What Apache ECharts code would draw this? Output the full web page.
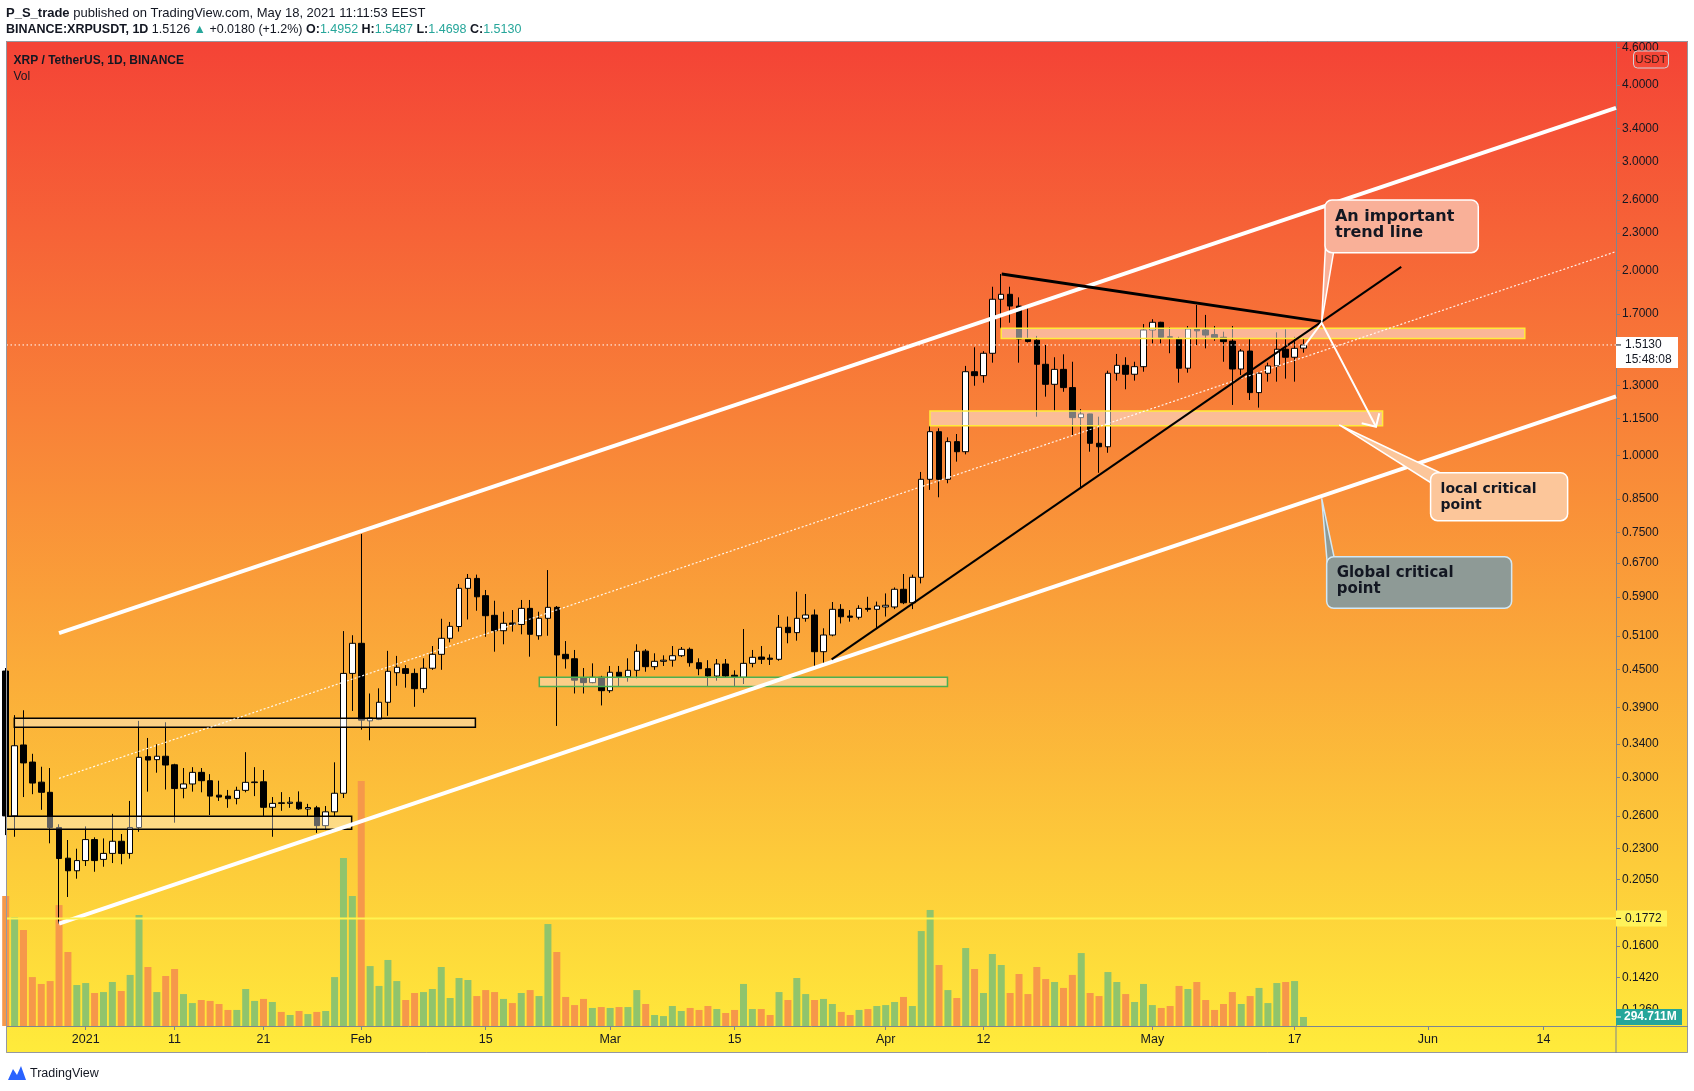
<!DOCTYPE html>
<html>
<head>
<meta charset="utf-8">
<title>XRPUSDT 1D</title>
<script src="https://cdn.jsdelivr.net/npm/echarts@6/dist/echarts.min.js"></script>
<style>
html,body{margin:0;padding:0;background:#ffffff;}
#chart{width:1694px;height:1091px;}
</style>
</head>
<body>
<div id="chart"></div>
<script>
// ---------------- data (daily candles, first candle = firstDate) ----------------
const firstDate = '2020-12-23';
const open = [
 0.447,0.260,0.339,0.318,0.295,0.284,0.249,0.222,0.2118,
 0.220,0.238,0.221,0.226,0.2365,0.226,0.249,0.3245,0.3209,0.325,0.3148,0.2883,0.293,0.306,0.2966,0.281,0.280,0.2776,0.2861,0.2945,0.2954,0.2685,0.2730,0.2725,0.2737,0.2668,0.268,0.2507,0.264,0.283,0.443,
 0.4958,0.371,0.373,0.3977,0.4442,0.451,0.443,0.4184,0.4517,0.4758,0.5052,0.528,0.609,0.632,0.5925,0.5505,0.5197,0.535,0.532,0.565,0.510,0.5444,0.5672,0.4758,0.468,0.436,0.428,0.4366,
 0.4153,0.4449,0.4376,0.4482,0.4815,0.4543,0.4635,0.4655,0.4733,0.4848,0.4611,0.4509,0.4387,0.4589,0.440,0.4366,0.460,0.471,0.469,0.467,0.5264,0.516,0.5444,0.5512,0.4805,0.5114,0.563,0.549,0.5465,0.565,0.563,
 0.568,0.568,0.6068,0.577,0.6346,0.9155,1.094,0.9155,1.054,1.015,1.369,1.349,1.4666,1.795,1.8286,1.750,1.547,1.54,1.4075,1.306,1.381,1.290,1.153,1.169,1.0475,1.034,1.361,1.402,1.356,1.395,
 1.60,1.647,1.560,1.547,1.387,1.606,1.60,1.573,1.557,1.535,1.383,1.479,1.266,1.361,1.399,1.489,1.445,1.4952
];
const high = [
 0.452,0.379,0.386,0.328,0.3125,0.311,0.252,0.2376,0.230,
 0.250,0.240,0.239,0.262,0.243,0.275,0.371,0.348,0.340,0.369,0.316,0.311,0.312,0.311,0.304,0.2966,0.2865,0.290,0.330,0.312,0.3087,0.279,0.2842,0.279,0.285,0.272,0.270,0.2698,0.3177,0.519,0.511,
 0.746,0.411,0.419,0.482,0.473,0.457,0.451,0.4688,0.4908,0.5435,0.537,0.619,0.6425,0.641,0.6052,0.5814,0.558,0.5615,0.583,0.583,0.558,0.652,0.570,0.50,0.4836,0.452,0.460,0.439,
 0.4555,0.4555,0.4688,0.494,0.485,0.4776,0.474,0.4908,0.489,0.488,0.4688,0.4655,0.4675,0.4675,0.4482,0.523,0.4836,0.4908,0.4757,0.5512,0.548,0.6014,0.5962,0.5627,0.5244,0.5786,0.574,0.5614,0.5716,0.590,0.5795,
 0.5975,0.611,0.6425,0.641,0.941,1.1187,1.108,1.071,1.0845,1.399,1.50,1.478,1.881,1.973,1.881,1.808,1.735,1.565,1.513,1.445,1.461,1.421,1.19,1.17,1.157,1.374,1.463,1.445,1.421,1.636,
 1.666,1.65,1.616,1.56,1.624,1.757,1.693,1.624,1.59,1.624,1.49,1.547,1.365,1.416,1.586,1.604,1.56,1.5487
];
const low = [
 0.242,0.2405,0.279,0.282,0.266,0.2347,0.174,0.192,0.2056,
 0.2156,0.211,0.215,0.218,0.217,0.2216,0.245,0.2847,0.3056,0.287,0.2535,0.2777,0.2847,0.284,0.2609,0.275,0.268,0.2715,0.284,0.280,0.260,0.2405,0.265,0.268,0.266,0.259,0.244,0.2466,0.260,0.278,0.385,
 0.359,0.345,0.372,0.378,0.423,0.42,0.391,0.412,0.449,0.449,0.4975,0.518,0.542,0.560,0.508,0.4805,0.494,0.518,0.5128,0.4716,0.5025,0.510,0.364,0.451,0.411,0.411,0.427,0.393,
 0.412,0.4226,0.4295,0.435,0.4458,0.449,0.4555,0.4543,0.471,0.4543,0.440,0.4226,0.4311,0.437,0.4226,0.4258,0.4532,0.4589,0.4572,0.4645,0.4958,0.5007,0.5376,0.4555,0.4555,0.509,0.534,0.5376,0.542,0.558,0.5244,
 0.548,0.5635,0.574,0.5635,0.6203,0.88,0.856,0.902,0.978,1.005,1.299,1.314,1.416,1.61,1.644,1.416,1.527,1.157,1.247,1.183,1.27,1.0805,0.885,1.015,0.938,1.011,1.324,1.282,1.324,1.369,
 1.522,1.522,1.467,1.314,1.364,1.513,1.494,1.537,1.421,1.209,1.352,1.2316,1.197,1.319,1.319,1.334,1.319,1.4698
];
const close = [
 0.260,0.338,0.317,0.294,0.284,0.249,0.2217,0.2118,0.220,
 0.238,0.220,0.226,0.2365,0.226,0.249,0.3237,0.3204,0.325,0.3145,0.288,0.293,0.306,0.2966,0.280,0.279,0.2773,0.2861,0.2948,0.2952,0.2685,0.2725,0.2725,0.2737,0.267,0.2683,0.2507,0.264,0.283,0.443,0.4958,
 0.372,0.375,0.3977,0.4465,0.4533,0.443,0.4184,0.4517,0.4758,0.5052,0.5283,0.609,0.632,0.590,0.5497,0.5197,0.5343,0.532,0.565,0.5128,0.5444,0.5672,0.4746,0.468,0.432,0.428,0.4366,0.4153,
 0.4449,0.4376,0.4482,0.4812,0.4543,0.4635,0.4655,0.4733,0.4848,0.4611,0.4509,0.4387,0.4589,0.4387,0.4376,0.460,0.4705,0.467,0.467,0.5264,0.5159,0.5444,0.5512,0.4805,0.5114,0.563,0.5476,0.5465,0.565,0.563,0.570,
 0.5716,0.6068,0.577,0.6346,0.9155,1.094,0.9155,1.054,1.015,1.369,1.349,1.4666,1.795,1.8286,1.750,1.547,1.533,1.4075,1.306,1.381,1.290,1.153,1.169,1.0475,1.034,1.361,1.402,1.356,1.395,1.60,
 1.647,1.557,1.557,1.387,1.606,1.595,1.570,1.555,1.532,1.383,1.479,1.266,1.361,1.399,1.489,1.445,1.494,1.5130
];
// volume in millions of XRP
const volumeM = [
 4250,3555,3140,1600,1375,1470,3955,2420,1340,
 1405,1080,1110,1440,1145,1670,3630,1930,1110,1635,1865,1045,750,850,820,720,525,525,1210,820,885,785,460,360,490,390,460,490,1600,5495,4250,
 8010,1960,1310,2160,1470,850,1080,1110,1210,1930,915,1570,1505,980,1175,1110,885,750,1080,1175,980,3335,2420,950,685,885,590,620,
 590,620,620,1175,720,360,325,655,490,590,525,655,555,425,525,1375,555,555,360,1110,850,1570,1045,850,885,720,460,360,525,555,655,
 685,785,950,655,3105,3795,1995,1175,915,2550,1865,1080,2355,1995,1080,1700,1045,1930,1535,1440,1245,1670,2385,1080,980,1765,1440,1045,785,1375,
 685,590,655,1310,1210,1440,850,525,720,1110,720,980,1245,750,1405,1440,1470,294.711
];

const priceTicks = [4.6,4.0,3.4,3.0,2.6,2.3,2.0,1.7,1.3,1.15,1.0,0.85,0.75,0.67,0.59,0.51,0.45,0.39,0.34,0.30,0.26,0.23,0.205,0.16,0.142,0.126];
const dateTicks = ['2021-01-01','2021-01-11','2021-01-21','2021-02-01','2021-02-15','2021-03-01','2021-03-15','2021-04-01','2021-04-12','2021-05-01','2021-05-17','2021-06-01','2021-06-14'];
const dateTickLabels = ['2021','11','21','Feb','15','Mar','15','Apr','12','May','17','Jun','14'];

const lastPrice = 1.5130;
const lastVolumeLabel = '294.711M';
const levelPrice = 0.1772;

// drawings in (day offset from 2021-01-01, price)
const bandRects = [
 [-8.03, 0.3746, 43.84, 0.3621],
 [-9.5, 0.2596, 29.92, 0.2473],
 [51.03, 0.4366, 96.95, 0.4218],
 [103.0, 1.610, 161.9, 1.550],
 [94.98, 1.182, 145.9, 1.1187]
];
const drawnLines = [
 [[-3, 0.515], [172.16, 3.672]],
 [[-3, 0.1738], [172.16, 1.248]],
 [[-3, 0.2992], [172.16, 2.145]],
 [[83.92, 0.467], [148.0, 2.026]],
 [[103.05, 1.973], [139.05, 1.651]],
 [[137.17, 1.511], [139.05, 1.644], [145.16, 1.1146]],
 [[143.55, 1.1288], [145.16, 1.1146], [145.53, 1.1718]]
];
const callouts = [
 {text:'An important\ntrend line', anchor:[139.05, 1.651], box:[139.42, 2.602, 156.67, 2.1366], tail:[[139.53, 2.274], [140.43, 2.158]]},
 {text:'local critical\npoint', anchor:[141.03, 1.1217], box:[151.3, 0.9384, 166.72, 0.7842], tail:[[151.91, 0.8929], [153.14, 0.9269]]},
 {text:'Global critical\npoint', anchor:[139.05, 0.8527], box:[139.61, 0.6855, 160.42, 0.5652], tail:[[139.7, 0.662], [140.66, 0.662]]}
];

// ---------------- axis ranges ----------------
const dayMin = -8.91, dayMax = 172.16;
const priceMin = 0.11852, priceMax = 4.680;
const volMax = 32150;

// ---------------- build ----------------
const DAY = 86400000;
const baseUTC = Date.UTC(2021, 0, 1);
function dayIndex(s) { const a = s.split('-').map(Number); return (Date.UTC(a[0], a[1] - 1, a[2]) - baseUTC) / DAY; }
const d0 = dayIndex(firstDate);
const days = open.map((_, i) => d0 + i);
const L = Math.log;
const tickDays = dateTicks.map(dayIndex);
const tickLn = priceTicks.map(L);

const GREEN = '#90C46C', ORANGE = '#F6984A';
const candleData = days.map((d, i) => [d, L(open[i]), L(close[i]), L(low[i]), L(high[i])]);
const volData = days.map((d, i) => ({value: [d, volumeM[i]], itemStyle: {color: close[i] >= open[i] ? GREEN : ORANGE}}));

const bandLook = [
 {fill:'rgba(255,255,255,0.38)', stroke:'#000000'},
 {fill:'rgba(255,255,255,0.38)', stroke:'#000000'},
 {fill:'rgba(255,255,255,0.40)', stroke:'#4CAF50'},
 {fill:'rgba(255,255,255,0.48)', stroke:'#FFEB3B'},
 {fill:'rgba(255,255,255,0.48)', stroke:'#FFEB3B'}
];
const lineLook = [
 {stroke:'#ffffff', width:4},
 {stroke:'#ffffff', width:4},
 {stroke:'rgba(255,255,255,0.9)', width:1.2, dash:[2,2]},
 {stroke:'#000000', width:2},
 {stroke:'#000000', width:3},
 {stroke:'#ffffff', width:2},
 {stroke:'#ffffff', width:2}
];
const calloutLook = [
 {fill:'#F9B098', stroke:'#ffffff', size:16},
 {fill:'#FCC69A', stroke:'#ffffff', size:14},
 {fill:'#8E9A96', stroke:'#D2E8F6', size:15}
];
const FONT = 'Liberation Sans, Arial, sans-serif';

function pt(api, p) { return api.coord([p[0], L(p[1])]); }

function renderBand(params, api) {
  const b = bandRects[params.dataIndex], lk = bandLook[params.dataIndex];
  const a = pt(api, [b[0], b[1]]), c = pt(api, [b[2], b[3]]);
  return {type:'rect', shape:{x:Math.min(a[0], c[0]), y:Math.min(a[1], c[1]), width:Math.abs(c[0] - a[0]), height:Math.abs(c[1] - a[1])},
    style:{fill:lk.fill, stroke:lk.stroke, lineWidth:1.5}};
}
function renderLine(params, api) {
  const ln = drawnLines[params.dataIndex], lk = lineLook[params.dataIndex];
  return {type:'polyline', shape:{points: ln.map(p => pt(api, p))},
    style:{stroke:lk.stroke, lineWidth:lk.width, lineDash:lk.dash || null, fill:null}};
}
function renderCallout(params, api) {
  const c = callouts[params.dataIndex], lk = calloutLook[params.dataIndex];
  const a = pt(api, c.anchor), t0 = pt(api, c.tail[0]), t1 = pt(api, c.tail[1]);
  const b0 = pt(api, [c.box[0], c.box[1]]), b1 = pt(api, [c.box[2], c.box[3]]);
  return {type:'group', children:[
    {type:'polygon', shape:{points:[a, t0, t1]}, style:{fill:lk.fill, stroke:lk.stroke, lineWidth:1.5}},
    {type:'rect', shape:{x:b0[0], y:b0[1], width:b1[0] - b0[0], height:b1[1] - b0[1], r:7}, style:{fill:lk.fill, stroke:lk.stroke, lineWidth:1.5}},
    {type:'text', x:b0[0] + 10, y:b0[1] + 8.5, style:{legacy:false, text:c.text, fill:'#131722', fontSize:lk.size, fontWeight:'bold', fontFamily:'DejaVu Sans', lineHeight:16, align:'left', verticalAlign:'top'}}
  ]};
}
function txt(x, y, text, size, color, weight) {
  return {type:'text', x:x, y:y, style:{legacy:false, text:text, fill:color, fontSize:size, fontWeight:weight || 'normal', fontFamily:FONT, align:'left', verticalAlign:'middle'}};
}
function renderPriceTags(params, api) {
  const p = api.coord([dayMax, L(lastPrice)]);
  const q = api.coord([dayMax, L(levelPrice)]);
  const x0 = p[0];
  return {type:'group', children:[
    {type:'line', shape:{x1:api.coord([dayMin, 0])[0], y1:p[1], x2:x0, y2:p[1]}, style:{stroke:'#ffffff', lineWidth:1, lineDash:[1.5,2.5]}},
    {type:'line', shape:{x1:api.coord([dayMin, 0])[0], y1:q[1], x2:x0, y2:q[1]}, style:{stroke:'#FFF350', lineWidth:2}},
    {type:'rect', shape:{x:x0, y:p[1] - 8, width:62, height:31}, style:{fill:'#ffffff'}},
    {type:'line', shape:{x1:x0, y1:p[1], x2:x0 + 5, y2:p[1]}, style:{stroke:'#131722', lineWidth:1}},
    txt(x0 + 9, p[1], lastPrice.toFixed(4), 12, '#131722'),
    txt(x0 + 9, p[1] + 15, '15:48:08', 12, '#131722'),
    {type:'rect', shape:{x:x0, y:q[1] - 8, width:51, height:16}, style:{fill:'#FFF35A'}},
    {type:'line', shape:{x1:x0, y1:q[1], x2:x0 + 5, y2:q[1]}, style:{stroke:'#131722', lineWidth:1}},
    txt(x0 + 9, q[1], levelPrice.toFixed(4), 12, '#131722')
  ]};
}
function renderVolTag(params, api) {
  const p = api.coord([dayMax, volumeM[volumeM.length - 1]]);
  const x0 = p[0];
  return {type:'group', children:[
    {type:'rect', shape:{x:x0, y:p[1] - 8, width:66, height:16}, style:{fill:'#26A69A'}},
    {type:'line', shape:{x1:x0, y1:p[1], x2:x0 + 5, y2:p[1]}, style:{stroke:'#ffffff', lineWidth:1}},
    txt(x0 + 8, p[1], lastVolumeLabel, 12, '#ffffff', 'bold')
  ]};
}

const bgGradient = new echarts.graphic.LinearGradient(0, 0, 0, 1, [
  {offset:0, color:'#F44336'}, {offset:1, color:'#FFEB3B'}
]);

const option = {
  animation: false,
  backgroundColor: '#ffffff',
  grid: [{left:6.5, right:78, top:43, bottom:65, containLabel:false, outerBoundsMode:'none'}],
  xAxis: [{
    type:'value', min:dayMin, max:dayMax, position:'bottom',
    splitLine:{show:false},
    axisLine:{show:true, onZero:false, lineStyle:{color:'#7d8590', width:1}},
    axisTick:{show:true, length:4, customValues:tickDays, lineStyle:{color:'#7d8590'}},
    axisLabel:{customValues:tickDays, margin:7, color:'#131722', fontSize:12.5, fontFamily:FONT,
      formatter:(v) => { const k = tickDays.indexOf(v); return k >= 0 ? dateTickLabels[k] : ''; }}
  }],
  yAxis: [{
    type:'value', position:'right', min:L(priceMin), max:L(priceMax),
    splitLine:{show:false},
    axisLine:{show:true, onZero:false, lineStyle:{color:'#7d8590', width:1}},
    axisTick:{show:true, length:4, customValues:tickLn, lineStyle:{color:'#7d8590'}},
    axisLabel:{customValues:tickLn, margin:6, color:'#131722', fontSize:12, fontFamily:FONT,
      formatter:(v) => Math.exp(v).toFixed(4)}
  }, {
    type:'value', min:0, max:volMax, show:false, splitLine:{show:false}, axisLine:{show:false, onZero:false}
  }],
  graphic: {elements: [
    {type:'rect', silent:true, z:-100, shape:{x:6, y:41, width:1682, height:1012}, style:{fill:bgGradient}},
    {type:'rect', silent:true, z:100, shape:{x:6.5, y:41.5, width:1681, height:1011}, style:{fill:null, stroke:'#9598A1', lineWidth:1}},
    {type:'line', silent:true, z:100, shape:{x1:1616, y1:1026, x2:1616, y2:1053}, style:{stroke:'#7d8590', lineWidth:1}},
    {type:'line', silent:true, z:100, shape:{x1:1616, y1:1026.5, x2:1688, y2:1026.5}, style:{stroke:'#7d8590', lineWidth:1}},
    {type:'text', x:6, y:13, style:{legacy:false, text:'{b|P_S_trade} published on TradingView.com, May 18, 2021 11:11:53 EEST',
      fill:'#131722', fontSize:13, fontFamily:FONT, verticalAlign:'middle', align:'left',
      rich:{b:{fontWeight:'bold', fontSize:13, fontFamily:FONT, fill:'#131722'}}}},
    {type:'text', x:6, y:29.5, style:{legacy:false,
      text:'{b|BINANCE:XRPUSDT, 1D} 1.5126 {g|\u25B2} +0.0180 (+1.2%) {b|O:}{g|1.4952} {b|H:}{g|1.5487} {b|L:}{g|1.4698} {b|C:}{g|1.5130}',
      fill:'#131722', fontSize:12.5, fontFamily:FONT, verticalAlign:'middle', align:'left',
      rich:{b:{fontWeight:'bold', fontSize:12.5, fontFamily:FONT, fill:'#131722'}, g:{fontSize:12.5, fontFamily:FONT, fill:'#26A69A'}}}},
    {type:'text', x:13.5, y:61, style:{legacy:false, text:'XRP / TetherUS, 1D, BINANCE', fill:'#131722', fontSize:12, fontWeight:'bold', fontFamily:FONT, verticalAlign:'middle', align:'left'}},
    {type:'text', x:13.5, y:77, style:{legacy:false, text:'Vol', fill:'#131722', fontSize:12, fontFamily:FONT, verticalAlign:'middle', align:'left'}},
    {type:'rect', z:100, shape:{x:1633.5, y:51, width:35, height:17, r:4}, style:{fill:null, stroke:'#D1D4DC', lineWidth:1}},
    {type:'text', z:100, x:1651, y:59.5, style:{legacy:false, text:'USDT', fill:'#3a1a14', fontSize:11.5, fontFamily:FONT, verticalAlign:'middle', align:'center'}},
    {type:'polygon', shape:{points:[[8,1080],[13,1069],[17,1075],[21,1066],[26,1080]]}, style:{fill:'#2962FF'}},
    {type:'text', x:30, y:1073.5, style:{legacy:false, text:'TradingView', fill:'#131722', fontSize:12.5, fontFamily:FONT, verticalAlign:'middle', align:'left'}}
  ]},
  series: [
    {type:'bar', name:'Vol', xAxisIndex:0, yAxisIndex:1, data:volData, barWidth:7, z:1, clip:true},
    {type:'candlestick', name:'XRPUSDT', xAxisIndex:0, yAxisIndex:0, data:candleData, barWidth:6, z:2, clip:true,
      itemStyle:{color:'#ffffff', color0:'#000000', borderColor:'#000000', borderColor0:'#000000', borderColorDoji:'#000000', borderWidth:1}},
    {type:'custom', name:'bands', xAxisIndex:0, yAxisIndex:0, z:3, clip:true, silent:true,
      data: bandRects.map(() => [0, 0]), renderItem: renderBand},
    {type:'custom', name:'lines', xAxisIndex:0, yAxisIndex:0, z:4, clip:true, silent:true,
      data: drawnLines.map(() => [0, 0]), renderItem: renderLine},
    {type:'custom', name:'callouts', xAxisIndex:0, yAxisIndex:0, z:5, clip:true, silent:true,
      data: callouts.map(() => [0, 0]), renderItem: renderCallout},
    {type:'custom', name:'priceTags', xAxisIndex:0, yAxisIndex:0, z:6, clip:false, silent:true,
      data: [[0, 0]], renderItem: renderPriceTags},
    {type:'custom', name:'volTag', xAxisIndex:0, yAxisIndex:1, z:6, clip:false, silent:true,
      data: [[0, 0]], renderItem: renderVolTag}
  ]
};

const chart = echarts.init(document.getElementById('chart'), null, {renderer:'canvas', width:1694, height:1091});
chart.setOption(option);
</script>
</body>
</html>
